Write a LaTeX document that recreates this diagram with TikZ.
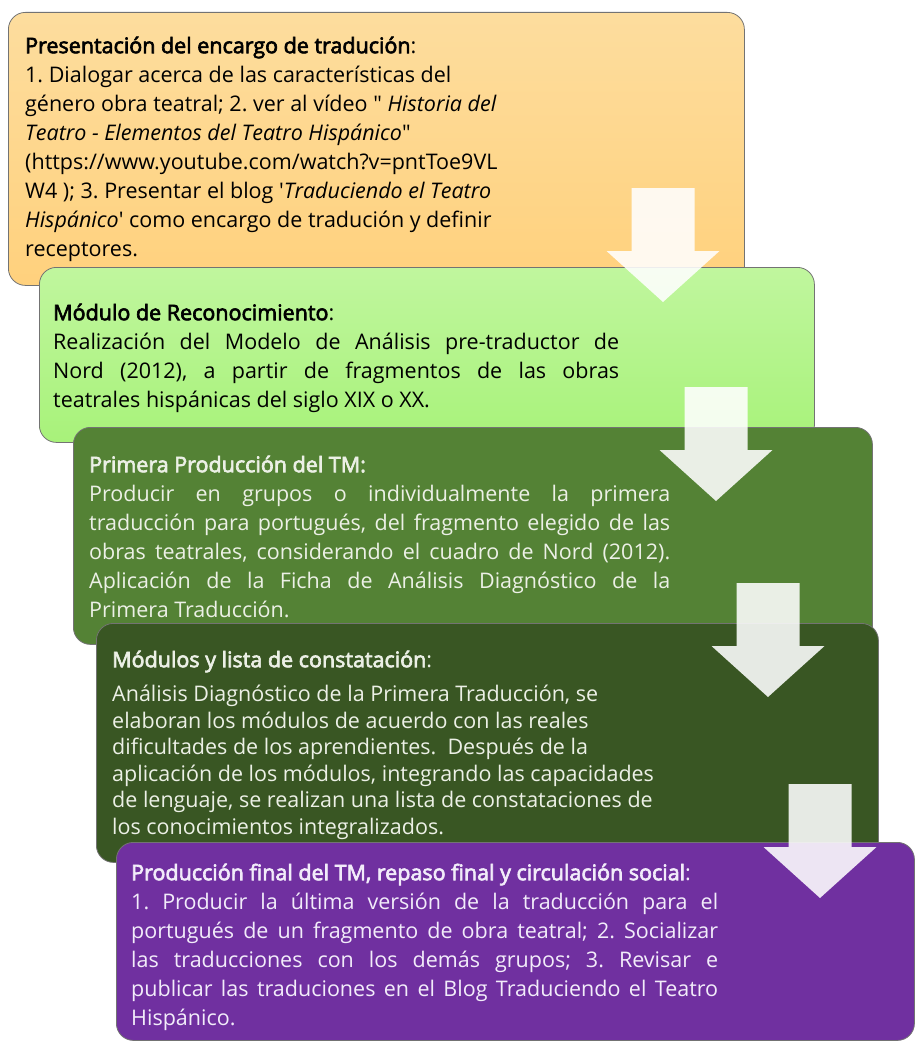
\documentclass[tikz,border=0pt]{standalone}
\usepackage{fontspec}
\setmainfont{Open Sans}[BoldFont={Open Sans}, BoldFeatures={FakeBold=3}]

\definecolor{orangetop}{RGB}{253,221,158}
\definecolor{orangebot}{RGB}{255,209,125}
\definecolor{limetop}{RGB}{192,246,158}
\definecolor{limebot}{RGB}{168,242,122}
\definecolor{leaf}{RGB}{84,130,53}
\definecolor{forest}{RGB}{57,86,35}
\definecolor{grape}{RGB}{112,48,160}
\definecolor{paleleaf}{RGB}{236,240,230}
\definecolor{palegrape}{RGB}{242,236,250}

% heading of a stage, colon kept in the regular weight
\newcommand{\stagehead}[1]{\rule{0pt}{24pt}{\bfseries #1}:}
% one justified line of a given width
\newcommand{\fillline}[2]{\makebox[#1][s]{#2}}
\frenchspacing

\begin{document}
\begin{tikzpicture}[x=1pt,y=-1pt,
  stage/.style={draw=black!55, line width=0.8pt, rounded corners=17pt, anchor=north west, inner sep=0pt},
  body/.style={anchor=north west, inner sep=0pt, align=left, font=\fontsize{21.5}{29}\selectfont},
  arrowfill/.style={fill=white, fill opacity=0.88}]
\useasboundingbox (0,0) rectangle (915,1043);

% Stage boxes, each one laid over the one before
\node[stage, top color=orangetop, bottom color=orangebot, minimum width=736pt, minimum height=273pt] (encargo) at (8,12) {};
\node[stage, top color=limetop, bottom color=limebot, minimum width=775pt, minimum height=175pt] (reconoc) at (39,267) {};
\node[stage, fill=leaf, minimum width=799pt, minimum height=217pt] (primera) at (73,427) {};
\node[stage, fill=forest, minimum width=782pt, minimum height=239pt] (modulos) at (96,623) {};
\node[stage, fill=grape, minimum width=798pt, minimum height=198pt] (final) at (116,842) {};

% Stage texts
\node[body] (encargotxt) at (25,29) {\stagehead{Presentación del encargo de tradución}\\
1. Dialogar acerca de las características del\\
género obra teatral; 2. ver al vídeo \textquotedbl{} \textit{Historia del}\\
\textit{Teatro - Elementos del Teatro Hispánico}\textquotedbl\\
(https://www.youtube.com/watch?v=pntToe9VL\\
W4 ); 3. Presentar el blog \textquotesingle\textit{Traduciendo el Teatro}\\
\textit{Hispánico}\textquotesingle{} como encargo de tradución y definir\\
receptores.};

\node[body] (reconoctxt) at (53,296) {\stagehead{Módulo de Reconocimiento}\\
\fillline{566pt}{Realización del Modelo de Análisis pre-traductor de}\\
\fillline{566pt}{Nord (2012), a partir de fragmentos de las obras}\\
teatrales hispánicas del siglo XIX o XX.};

\node[body, text=paleleaf] (primeratxt) at (89,448) {\rule{0pt}{24pt}{\bfseries Primera Producción del TM:}\\
\fillline{581pt}{Producir en grupos o individualmente la primera}\\
\fillline{581pt}{traducción para portugués, del fragmento elegido de las}\\
\fillline{581pt}{obras teatrales, considerando el cuadro de Nord (2012).}\\
\fillline{581pt}{Aplicación de la Ficha de Análisis Diagnóstico de la}\\
Primera Traducción.};

\node[body, text=paleleaf, font=\fontsize{21.5}{26.5}\selectfont] (modulostxt) at (112,643) {\stagehead{Módulos y lista de constatación}\\[8pt]
Análisis Diagnóstico de la Primera Traducción, se\\
elaboran los módulos de acuerdo con las reales\\
dificultades de los aprendientes.\ \ Después de la\\
aplicación de los módulos, integrando las capacidades\\
de lenguaje, se realizan una lista de constataciones de\\
los conocimientos integralizados.};

\node[body, text=palegrape] (finaltxt) at (131,856) {\stagehead{Producción final del TM, repaso final y circulación social}\\
\fillline{587pt}{1. Producir la última versión de la traducción para el}\\
\fillline{587pt}{portugués de un fragmento de obra teatral; 2. Socializar}\\
\fillline{587pt}{las traducciones con los demás grupos; 3. Revisar e}\\
\fillline{587pt}{publicar las traduciones en el Blog Traduciendo el Teatro}\\
Hispánico.};

% Down arrows between the stages
\foreach \x/\y in {663/188, 716/387, 768/583, 820/784}
  \fill[arrowfill] (\x-31.5,\y) -- (\x+31.5,\y) -- (\x+31.5,\y+63) -- (\x+56.5,\y+63)
    -- (\x,\y+114) -- (\x-56.5,\y+63) -- (\x-31.5,\y+63) -- cycle;
\end{tikzpicture}
\end{document}
